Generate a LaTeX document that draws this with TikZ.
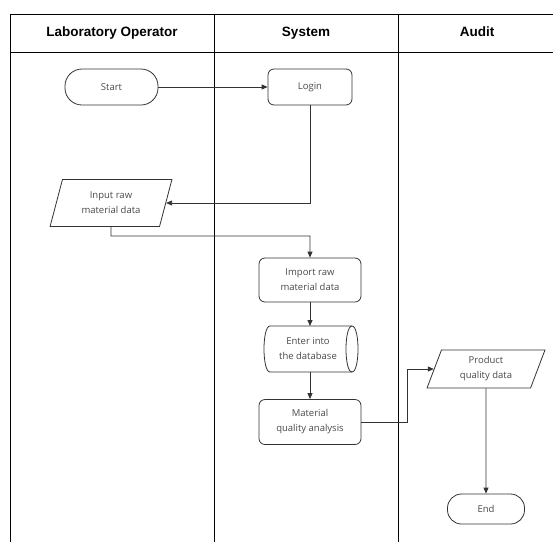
\documentclass[tikz,border=0pt]{standalone}
\usepackage{fontspec}
\setmainfont{Open Sans}
\newfontfamily\headfont{Liberation Sans}
\usetikzlibrary{shapes.geometric,arrows.meta}
\definecolor{lineg}{HTML}{333333}
\definecolor{textg}{HTML}{4A4A4A}
\tikzset{
  nodetext/.style={align=center, text=textg, font=\fontsize{9.5}{15}\selectfont, inner sep=0pt},
  box/.style={nodetext, draw=lineg, line width=0.8pt, rectangle, rounded corners=6pt},
  term/.style={nodetext, draw=lineg, line width=0.8pt, rectangle, rounded corners=17pt},
  io/.style={nodetext, draw=lineg, line width=0.8pt, trapezium, trapezium left angle=71, trapezium right angle=109, trapezium stretches=true},
  head/.style={font=\headfont\bfseries\fontsize{13.5}{16}\selectfont, text=black, text height=10pt, text depth=3pt},
  flow/.style={draw=lineg, line width=0.8pt, -{Triangle[length=6pt,width=5pt]}},
  lane/.style={draw=black, line width=0.8pt}
}
\begin{document}
\begin{tikzpicture}[x=1pt,y=-1pt]
\useasboundingbox (0,0) rectangle (553,542);
\fill[white] (0,0) rectangle (553,542);
% swimlane table
\coordinate (tl) at (10,14);
\coordinate (tr) at (553,14);
\coordinate (hl) at (10,52);
\coordinate (hr) at (553,52);
\coordinate (bl) at (10,542);
\coordinate (d1t) at (214,14);
\coordinate (d1b) at (214,542);
\coordinate (d2t) at (398,14);
\coordinate (d2b) at (398,542);
\draw[lane] (tl) -- (tr);
\draw[lane] (hl) -- (hr);
\draw[lane] (tl) -- (bl);
\draw[lane] (d1t) -- (d1b);
\draw[lane] (d2t) -- (d2b);
\node[head] (h1) at (112,33) {Laboratory Operator};
\node[head] (h2) at (306,33) {System};
\node[head] (h3) at (477,33) {Audit};
% nodes
\node[term, minimum width=93pt, minimum height=36pt] (start) at (111.5,87) {Start};
\node[box, minimum width=84pt, minimum height=36pt] (login) at (310,87) {Login};
\node[io, minimum width=122pt, minimum height=47pt] (input) at (111,203) {Input raw\\material data};
\node[box, minimum width=102pt, minimum height=44pt] (import) at (310,280) {Import raw\\material data};
% cylinder (direct access storage)
\node[nodetext, minimum width=90pt, minimum height=46pt] (db) at (308,349) {Enter into\\the database};
\draw[lineg, line width=0.8pt] (270,326) .. controls (262,326) and (262,372) .. (270,372)
  -- (352,372) .. controls (360,372) and (360,326) .. (352,326) -- cycle;
\draw[lineg, line width=0.8pt] (352,326) .. controls (344,326) and (344,372) .. (352,372);
\node[box, minimum width=102pt, minimum height=45pt] (mat) at (310,422) {Material\\quality analysis};
\node[io, minimum width=118pt, minimum height=38pt] (prod) at (486,369) {Product\\quality data};
\node[term, minimum width=77pt, minimum height=30pt, rounded corners=14pt] (end) at (486,509) {End};
% connectors
\coordinate (b1) at (111,236);
\coordinate (b2) at (407,422);
\coordinate (dbtop) at (310,326);
\coordinate (dbbot) at (310,372);
\draw[flow] (start) -- (login);
\draw[flow] (login.south) |- (input.east);
\draw[flow] (input.south) -- (b1) -| (import.north);
\draw[flow] (import.south) -- (dbtop);
\draw[flow] (dbbot) -- (mat.north);
\draw[flow] (mat.east) -- (b2) |- (prod.west);
\draw[flow] (prod.south) -- (end.north);
\end{tikzpicture}
\end{document}
